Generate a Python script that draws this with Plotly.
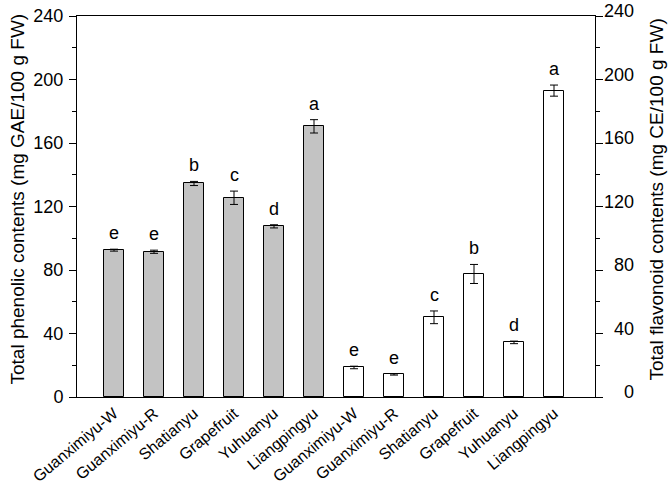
import plotly.graph_objects as go

categories = ["Guanximiyu-W", "Guanximiyu-R", "Shatianyu", "Grapefruit", "Yuhuanyu", "Liangpingyu"]
tick_labels = categories + categories
y_ticks = [0, 40, 80, 120, 160, 200, 240]
y_minor = [20, 60, 100, 140, 180, 220]
phenolic = [92.5, 91.5, 134.5, 125.5, 107.5, 170.5]
phenolic_err = [0.6, 1.0, 1.3, 4.2, 1.0, 4.2]
phenolic_letters = ["e", "e", "b", "c", "d", "a"]
flavonoid = [18.6, 14.2, 50.2, 77.5, 34.4, 193.0]
flavonoid_err = [0.8, 0.4, 4.0, 6.0, 0.8, 3.5]
flavonoid_letters = ["e", "e", "c", "b", "d", "a"]

FONT = "Liberation Sans, Arial, sans-serif"
xp = list(range(6))
xf = list(range(6, 12))

fig = go.Figure()
fig.add_trace(go.Bar(
    x=xp, y=phenolic, width=0.5, yaxis="y",
    marker=dict(color="#c3c3c3", line=dict(color="black", width=1)),
    error_y=dict(type="data", array=phenolic_err, color="black", thickness=1, width=4),
    showlegend=False, hoverinfo="skip",
))
fig.add_trace(go.Bar(
    x=xf, y=flavonoid, width=0.5, yaxis="y2",
    marker=dict(color="white", line=dict(color="black", width=1)),
    error_y=dict(type="data", array=flavonoid_err, color="black", thickness=1, width=4),
    showlegend=False, hoverinfo="skip",
))

ann = []
for x, v, e, t in zip(xp, phenolic, phenolic_err, phenolic_letters):
    ann.append(dict(x=x, y=v + e, xref="x", yref="y", text=t, showarrow=False,
                    yanchor="bottom", yshift=4, font=dict(size=18, color="black", family=FONT)))
for x, v, e, t in zip(xf, flavonoid, flavonoid_err, flavonoid_letters):
    ann.append(dict(x=x, y=v + e, xref="x", yref="y2", text=t, showarrow=False,
                    yanchor="bottom", yshift=4, font=dict(size=18, color="black", family=FONT)))
# right-axis tick labels (right-aligned, as in the original)
for v in y_ticks:
    ann.append(dict(x=1, y=v, xref="paper", yref="y2", text=str(v), showarrow=False,
                    xanchor="right", yanchor="middle", xshift=41, yshift=5,
                    font=dict(size=18, color="black", family=FONT)))
ann.append(dict(x=0, y=0.5, xref="paper", yref="paper", text="Total phenolic contents (mg GAE/100 g FW)",
                textangle=-90, showarrow=False, xanchor="center", yanchor="middle", xshift=-60, yshift=7,
                font=dict(size=19, color="black", family=FONT)))
ann.append(dict(x=1, y=0.5, xref="paper", yref="paper", text="Total flavonoid contents (mg CE/100 g FW)",
                textangle=-90, showarrow=False, xanchor="center", yanchor="middle", xshift=61, yshift=7,
                font=dict(size=19, color="black", family=FONT)))

fig.update_layout(
    template="none",
    width=669, height=493,
    margin=dict(l=77, r=74, t=16, b=96, autoexpand=False),
    plot_bgcolor="white", paper_bgcolor="white",
    font=dict(family=FONT, color="black"),
    bargap=0,
    xaxis=dict(
        range=[-0.925, 12.025], tickmode="array", tickvals=list(range(12)), ticktext=tick_labels,
        tickangle=-40, ticks="", showline=True, linecolor="black", linewidth=1, mirror=True,
        showgrid=False, zeroline=False, tickfont=dict(size=16, color="black"), automargin=False,
    ),
    yaxis=dict(
        range=[0, 240], tickvals=y_ticks, ticks="outside", ticklen=7,
        tickcolor="black", showline=True, linecolor="black", linewidth=1, showgrid=False, zeroline=False,
        tickfont=dict(size=18, color="black"), ticklabelstandoff=2, automargin=False,
        minor=dict(tickvals=y_minor, ticks="outside", ticklen=4, tickcolor="black", showgrid=False),
    ),
    yaxis2=dict(
        range=[0, 240], tickvals=y_ticks, ticks="outside", ticklen=7, showticklabels=False,
        tickcolor="black", showline=True, linecolor="black", linewidth=1, showgrid=False, zeroline=False,
        overlaying="y", side="right", automargin=False,
        minor=dict(tickvals=y_minor, ticks="outside", ticklen=4, tickcolor="black", showgrid=False),
    ),
    annotations=ann,
)

fig.write_html("out.html", config={"displayModeBar": False},
               post_script="document.body.style.margin='0';document.body.style.overflow='hidden';")
